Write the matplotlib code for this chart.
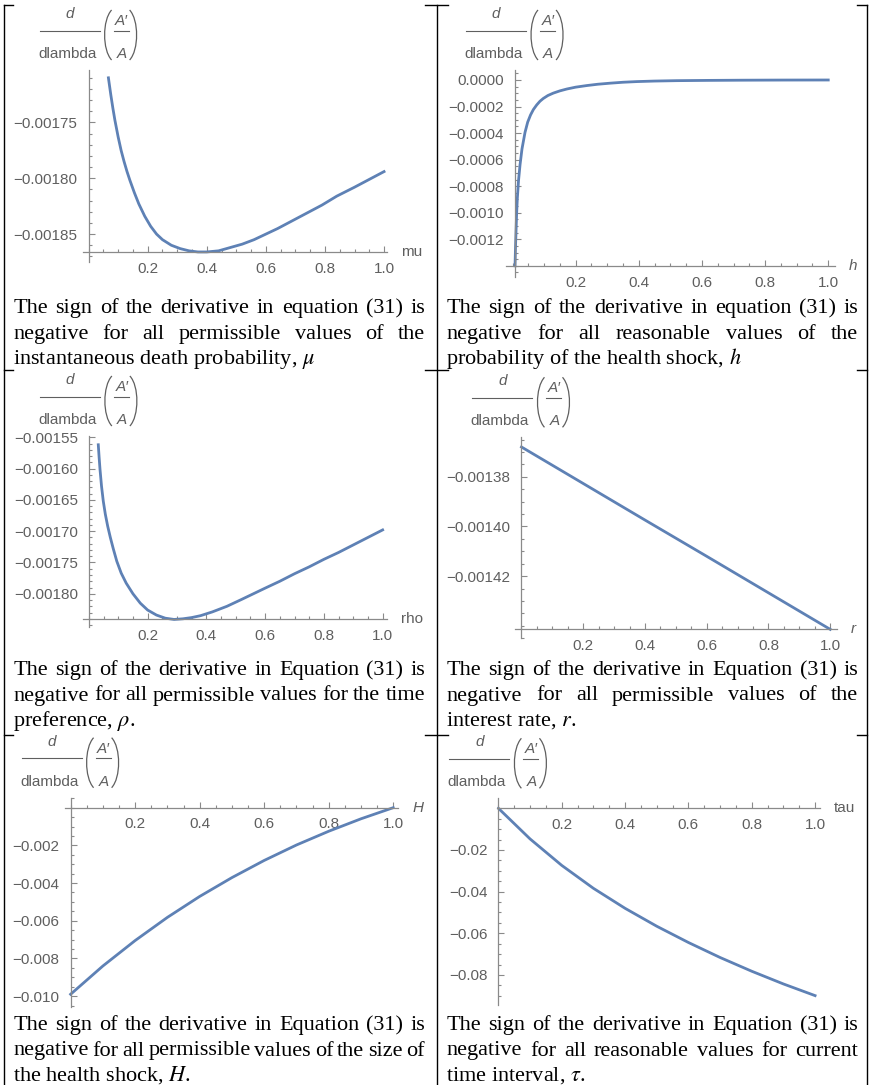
import matplotlib
matplotlib.use("Agg")
import matplotlib.pyplot as plt
from matplotlib.lines import Line2D
from matplotlib.path import Path
from matplotlib.patches import PathPatch
from matplotlib.ticker import MultipleLocator

plt.rcParams["font.family"] = ["Liberation Sans", "DejaVu Sans"]

# values
mu_x = [0.067, 0.075, 0.082, 0.089, 0.10, 0.11, 0.12, 0.13, 0.14, 0.155, 0.17, 0.19, 0.21,
        0.23, 0.25, 0.28, 0.31, 0.34, 0.37, 0.40, 0.44, 0.48, 0.52, 0.56, 0.60, 0.64, 0.69,
        0.74, 0.79, 0.84, 0.90, 0.95, 1.0]
mu_y = [-0.001710, -0.001725, -0.001737, -0.001748, -0.001763, -0.001775, -0.001785, -0.001794,
        -0.001802, -0.001813, -0.001823, -0.001834, -0.001843, -0.001850, -0.001855, -0.001860,
        -0.001863, -0.001865, -0.001866, -0.001866, -0.001865, -0.001862, -0.001859, -0.001855,
        -0.001850, -0.001845, -0.001838, -0.001831, -0.001824, -0.001816, -0.001808, -0.001801,
        -0.001794]

h_x = [0.008, 0.0095, 0.0111, 0.013, 0.0153, 0.019, 0.0238, 0.030, 0.0396, 0.048, 0.057, 0.066,
       0.0766, 0.087, 0.0976, 0.112, 0.129, 0.150, 0.172, 0.20, 0.235, 0.27, 0.309, 0.35, 0.394,
       0.45, 0.52, 0.62, 0.73, 0.86, 1.0]
h_y = [-0.001400, -0.001260, -0.001143, -0.001010, -0.000891, -0.000760, -0.000640, -0.000520,
       -0.000395, -0.000318, -0.000264, -0.000223, -0.000188, -0.000160, -0.000139, -0.000117,
       -0.000099, -0.000082, -0.000068, -0.000054, -0.000042, -0.000032, -0.000024, -0.000017,
       -0.000012, -0.000008, -0.000005, -0.000003, -0.0000015, -0.0000005, 0.0]

rho_x = [0.032, 0.035, 0.038, 0.043, 0.049, 0.056, 0.064, 0.073, 0.083, 0.095, 0.11, 0.127,
         0.15, 0.175, 0.20, 0.23, 0.26, 0.29, 0.32, 0.35, 0.38, 0.42, 0.47, 0.52, 0.56, 0.60,
         0.65, 0.70, 0.75, 0.80, 0.85, 0.90, 0.95, 1.0]
rho_y = [-0.001562, -0.001583, -0.001602, -0.001628, -0.001652, -0.001673, -0.001692, -0.001710,
         -0.001728, -0.001748, -0.001767, -0.001783, -0.001800, -0.001815, -0.001826, -0.001834,
         -0.001839, -0.001841, -0.001840, -0.001838, -0.001835, -0.001829, -0.001820, -0.001809,
         -0.001800, -0.001791, -0.001780, -0.001768, -0.001757, -0.001745, -0.001734, -0.001722,
         -0.001710, -0.001698]

r_x = [0.0, 0.2, 0.4, 0.6, 0.8, 1.0]
r_y = [-0.0013680, -0.0013827, -0.0013974, -0.0014120, -0.0014267, -0.0014414]

H_x = [0.0, 0.1, 0.2, 0.3, 0.4, 0.5, 0.6, 0.7, 0.8, 0.9, 1.0]
H_y = [-0.00990, -0.00840, -0.00705, -0.00582, -0.00471, -0.00371, -0.00280, -0.00198,
       -0.00125, -0.00059, 0.0]

tau_x = [0.0, 0.1, 0.2, 0.3, 0.4, 0.5, 0.6, 0.7, 0.8, 0.9, 1.0]
tau_y = [0.0, -0.0147, -0.0274, -0.0384, -0.0480, -0.0566, -0.0644, -0.0716, -0.0782, -0.0843,
         -0.0899]

x_ticks = [0.2, 0.4, 0.6, 0.8, 1.0]
x_tick_labels = ["0.2", "0.4", "0.6", "0.8", "1.0"]

mu_yticks = [-0.00175, -0.00180, -0.00185]
mu_ylabels = ["\u22120.00175", "\u22120.00180", "\u22120.00185"]
h_yticks = [0.0, -0.0002, -0.0004, -0.0006, -0.0008, -0.0010, -0.0012]
h_ylabels = ["0.0000", "\u22120.0002", "\u22120.0004", "\u22120.0006", "\u22120.0008",
             "\u22120.0010", "\u22120.0012"]
rho_yticks = [-0.00155, -0.00160, -0.00165, -0.00170, -0.00175, -0.00180]
rho_ylabels = ["\u22120.00155", "\u22120.00160", "\u22120.00165", "\u22120.00170",
               "\u22120.00175", "\u22120.00180"]
r_yticks = [-0.00138, -0.00140, -0.00142]
r_ylabels = ["\u22120.00138", "\u22120.00140", "\u22120.00142"]
H_yticks = [-0.002, -0.004, -0.006, -0.008, -0.010]
H_ylabels = ["\u22120.002", "\u22120.004", "\u22120.006", "\u22120.008", "\u22120.010"]
tau_yticks = [-0.02, -0.04, -0.06, -0.08]
tau_ylabels = ["\u22120.02", "\u22120.04", "\u22120.06", "\u22120.08"]

captions = [
    ["The sign of the derivative in equation (31) is",
     "negative for all permissible values of the",
     "instantaneous death probability, $\\mu$"],
    ["The sign of the derivative in equation (31) is",
     "negative for all reasonable values of the",
     "probability of the health shock, $h$"],
    ["The sign of the derivative in Equation (31) is",
     "negative for all permissible values for the time",
     "preference, $\\rho$."],
    ["The sign of the derivative in Equation (31) is",
     "negative for all permissible values of the",
     "interest rate, $r$."],
    ["The sign of the derivative in Equation (31) is",
     "negative for all permissible values of the size of",
     "the health shock, $H$."],
    ["The sign of the derivative in Equation (31) is",
     "negative for all reasonable values for current",
     "time interval, $\\tau$."],
]

LINE_COL = "#5e81b5"
AX_COL = "#8a8a8a"
TXT_COL = "#5f5f5f"

W, H = 870, 1085
fig = plt.figure(figsize=(W / 100, H / 100), dpi=100)
renderer = fig.canvas.get_renderer()


def fx(px):
    return px / W


def fy(py):
    return 1 - py / H


def hline(xa, xb, y, **kw):
    fig.add_artist(Line2D([fx(xa), fx(xb)], [fy(y), fy(y)], transform=fig.transFigure, **kw))


def paren(x_tip, x_out, y_top, y_bot):
    xc = (4 * x_out - x_tip) / 3
    k = 0.2 * (y_bot - y_top)
    verts = [(x_tip, y_top), (xc, y_top + k), (xc, y_bot - k), (x_tip, y_bot)]
    verts = [(fx(a), fy(b)) for a, b in verts]
    path = Path(verts, [Path.MOVETO, Path.CURVE4, Path.CURVE4, Path.CURVE4])
    fig.add_artist(PathPatch(path, fill=False, ec=TXT_COL, lw=0.9, transform=fig.transFigure))


def derivative_label(cx, top):
    # d/dlambda (A'/A) in Mathematica's style, centred over the vertical axis
    kw = dict(color=TXT_COL, fontsize=11, ha="center", va="baseline")
    fig.text(fx(cx - 19), fy(top - 52), "d", fontstyle="italic", **kw)
    hline(cx - 49, cx + 11, top - 39.3, color=TXT_COL, lw=0.8)
    fig.text(fx(cx - 21.5), fy(top - 12), "dlambda", **kw)
    paren(cx + 23, cx + 16, top - 60, top - 10)
    paren(cx + 41, cx + 48, top - 60, top - 10)
    fig.text(fx(cx + 33), fy(top - 45), "A\u2032", fontstyle="italic", **kw)
    hline(cx + 25, cx + 40, top - 39.3, color=TXT_COL, lw=0.8)
    fig.text(fx(cx + 33), fy(top - 12), "A", fontstyle="italic", **kw)


# (x, y, xname, italic, box px (l, r, t, b), xlim, ylim, cross, yticks, ylabels, yminor)
panels = [
    (mu_x, mu_y, "mu", False, (83, 387, 70, 262), (-0.019, 1.010), (-0.001875, -0.001703),
     (0.0, -0.0018663), mu_yticks, mu_ylabels, 0.00001),
    (h_x, h_y, "h", True, (506, 835, 70, 276.7), (-0.0206, 1.0214), (-0.001482, 0.0000753),
     (0.008, -0.0014), h_yticks, h_ylabels, 0.00005),
    (rho_x, rho_y, "rho", False, (83.3, 386.7, 436, 626.7), (-0.019, 1.0138),
     (-0.0018526, -0.001548), (0.0, -0.0018407), rho_yticks, rho_ylabels, 0.00001),
    (r_x, r_y, "r", True, (515, 836.7, 437.3, 638.3), (-0.021, 1.021), (-0.001445, -0.0013641),
     (0.0, -0.0014414), r_yticks, r_ylabels, 0.000005),
    (H_x, H_y, "H", True, (65, 398.3, 797.7, 1006.7), (-0.0174, 1.0157), (-0.01056, 0.00053),
     (0.0, 0.0), H_yticks, H_ylabels, 0.0005),
    (tau_x, tau_y, "tau", False, (496.7, 820, 798.3, 1005), (-0.0054, 1.0155), (-0.0944, 0.0048),
     (0.0, 0.0), tau_yticks, tau_ylabels, 0.005),
]

for x, y, xname, ital, box, xlim, ylim, cross, yt, yl, ymin in panels:
    l, r, t, b = box
    ax = fig.add_axes([fx(l), fy(b), (r - l) / W, (b - t) / H])
    ax.patch.set_alpha(0)
    ax.plot(x, y, color=LINE_COL, lw=2.0)
    ax.set_xlim(xlim)
    ax.set_ylim(ylim)
    ax.spines["top"].set_visible(False)
    ax.spines["right"].set_visible(False)
    ax.spines["left"].set_position(("data", cross[0]))
    ax.spines["bottom"].set_position(("data", cross[1]))
    for s in ("left", "bottom"):
        ax.spines[s].set_color(AX_COL)
        ax.spines[s].set_linewidth(0.9)
    ax.set_xticks(x_ticks, x_tick_labels)
    ax.xaxis.set_minor_locator(MultipleLocator(0.05))
    ax.set_yticks(yt, yl)
    ax.yaxis.set_minor_locator(MultipleLocator(ymin))
    ax.tick_params(which="both", direction="in", color=AX_COL, width=0.8,
                   labelcolor=TXT_COL, labelsize=11)
    ax.tick_params(which="major", length=4)
    ax.tick_params(which="minor", length=2.2)
    ax.tick_params(axis="x", pad=7)
    ax.tick_params(axis="y", pad=8)
    ax.annotate(xname, xy=(1, cross[1]), xycoords=("axes fraction", "data"),
                xytext=(10, 0), textcoords="offset points", ha="left", va="center",
                fontsize=11, color=TXT_COL, fontstyle="italic" if ital else "normal")
    axis_px = l + (cross[0] - xlim[0]) / (xlim[1] - xlim[0]) * (r - l)
    derivative_label(axis_px, t)

# captions, justified like the word-processor table
CAP_FONT = dict(family="Liberation Serif", size=16, color="black", math_fontfamily="stix")
cap_x = [(13.3, 425), (446.5, 858.3)]
cap_y = [313, 675, 1030]
LINE_GAP = 25.5

for i, lines in enumerate(captions):
    x0, x1 = cap_x[i % 2]
    yb0 = cap_y[i // 2]
    for j, line in enumerate(lines):
        yb = yb0 + j * LINE_GAP
        if j == len(lines) - 1:
            fig.text(fx(x0), fy(yb), line, va="baseline", ha="left", **CAP_FONT)
            continue
        words = line.split(" ")
        ts = [fig.text(0, fy(yb), w, va="baseline", ha="left", **CAP_FONT) for w in words]
        widths = [tx.get_window_extent(renderer).width for tx in ts]
        gap = (x1 - x0 - sum(widths)) / (len(words) - 1)
        xp = x0
        for tx, wd in zip(ts, widths):
            tx.set_x(fx(xp))
            xp += wd + gap

# table rules
RULE = dict(color="black", lw=1.0)
for xv in (4, 437.5, 867.5):
    fig.add_artist(Line2D([fx(xv), fx(xv)], [fy(5), fy(1085)], transform=fig.transFigure, **RULE))
for yv in (5, 370, 735):
    hline(4, 13, yv, **RULE)
    hline(425, 448, yv, **RULE)
    hline(857, 867.5, yv, **RULE)

fig.savefig("out.png", dpi=100)
